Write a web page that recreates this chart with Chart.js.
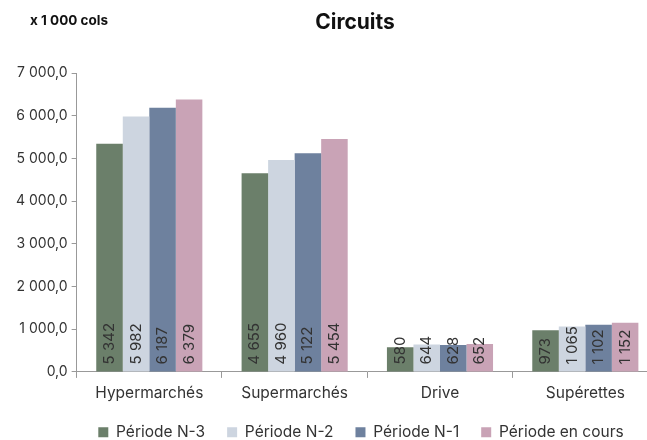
<!DOCTYPE html>
<html lang="fr">
<head>
    <meta charset="UTF-8">
    <title>Circuits</title>
    <script src="https://cdn.jsdelivr.net/npm/chart.js"></script>
    <style>
        body {
            margin: 0;
            background: #fff;
            overflow: hidden;
            font-family: 'Inter', sans-serif;
        }
        .wrap {
            position: relative;
            width: 700px;
            height: 440px;
        }
    </style>
</head>
<body>
    <div class="wrap"><canvas id="chart"></canvas></div>

    <script>
        const categories = ['Hypermarchés', 'Supermarchés', 'Drive', 'Supérettes'];
        const periodN3 = [5342, 4655, 580, 973];
        const periodN2 = [5982, 4960, 644, 1065];
        const periodN1 = [6187, 5122, 628, 1102];
        const periodCur = [6379, 5454, 652, 1152];
        const seriesNames = ['Période N-3', 'Période N-2', 'Période N-1', 'Période en cours'];
        const colors = ['#6b7f6a', '#cdd5e0', '#6e819e', '#c9a3b6'];

        const fmt = v => v.toLocaleString('fr-FR').replace(/\u202f|\u00a0/g, ' ');

        // rotated value labels at the base of each bar
        const barLabels = {
            id: 'barLabels',
            afterDatasetsDraw(chart) {
                const ctx = chart.ctx;
                ctx.save();
                ctx.font = '15px Inter';
                ctx.fillStyle = '#333';
                ctx.textAlign = 'left';
                ctx.textBaseline = 'middle';
                chart.data.datasets.forEach((ds, i) => {
                    chart.getDatasetMeta(i).data.forEach((bar, j) => {
                        ctx.save();
                        ctx.translate(bar.x, bar.base - 7);
                        ctx.rotate(-Math.PI / 2);
                        ctx.fillText(fmt(ds.data[j]), 0, 0);
                        ctx.restore();
                    });
                });
                ctx.restore();
            }
        };

        // title and unit text, plus nudge the legend to the right
        const headings = {
            id: 'headings',
            afterLayout(chart) {
                chart.legend.left += 26;
                chart.legend.right += 26;
            },
            afterDraw(chart) {
                const ctx = chart.ctx;
                ctx.save();
                ctx.fillStyle = '#111';
                ctx.textBaseline = 'middle';
                ctx.font = 'bold 13.5px Inter';
                ctx.fillText('x 1 000 cols', 30, 21);
                ctx.font = 'bold 21px Inter';
                ctx.textAlign = 'center';
                ctx.fillText('Circuits', 355, 23);
                ctx.restore();
            }
        };

        new Chart(document.getElementById('chart'), {
            type: 'bar',
            data: {
                labels: categories,
                datasets: [periodN3, periodN2, periodN1, periodCur].map((d, i) => ({
                    label: seriesNames[i],
                    data: d,
                    backgroundColor: colors[i],
                    barPercentage: 1,
                    categoryPercentage: 0.73
                }))
            },
            options: {
                responsive: true,
                maintainAspectRatio: false,
                animation: false,
                layout: { padding: { left: 12, right: 42, top: 73, bottom: -10 } },
                plugins: {
                    legend: {
                        position: 'bottom',
                        labels: {
                            boxWidth: 10,
                            boxHeight: 10,
                            padding: 22,
                            color: '#333',
                            font: { family: 'Inter', size: 15.5 }
                        }
                    },
                    tooltip: { enabled: false }
                },
                scales: {
                    x: {
                        grid: { drawOnChartArea: false, tickLength: 6, color: '#999' },
                        border: { color: '#999' },
                        ticks: { color: '#333', font: { family: 'Inter', size: 15.5 }, padding: 6 },
                        afterFit: scale => { scale.height -= 6; }
                    },
                    y: {
                        min: 0,
                        max: 7000,
                        ticks: {
                            stepSize: 1000,
                            color: '#333',
                            font: { family: 'Inter', size: 14 },
                            padding: 4,
                            callback: v => v.toLocaleString('fr-FR', { minimumFractionDigits: 1, maximumFractionDigits: 1 }).replace(/\u202f|\u00a0/g, ' ')
                        },
                        grid: { drawOnChartArea: false, tickLength: 5, color: '#999' },
                        border: { color: '#999' }
                    }
                }
            },
            plugins: [barLabels, headings]
        });
    </script>
</body>
</html>
